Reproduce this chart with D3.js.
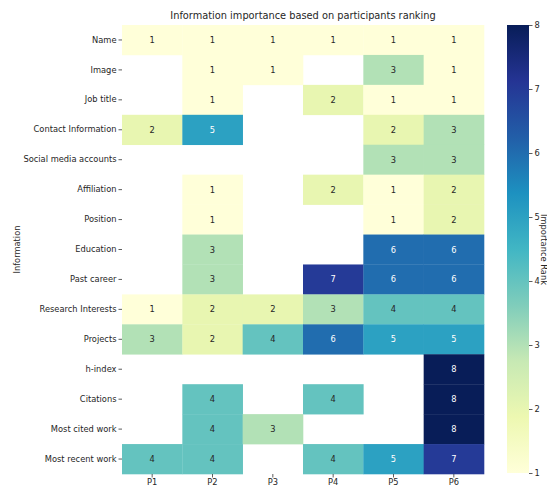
<!DOCTYPE html>
<html>
<head>
<meta charset="utf-8">
<script src="https://cdn.jsdelivr.net/npm/d3@7"></script>
<style>
  body { margin: 0; background: #fff; }
  text { font-family: "DejaVu Sans", sans-serif; fill: #262626; }
</style>
</head>
<body>
<div id="chart"></div>
<script>
const participants = ["P1", "P2", "P3", "P4", "P5", "P6"];
const items = ["Name", "Image", "Job title", "Contact Information", "Social media accounts",
  "Affiliation", "Position", "Education", "Past career", "Research Interests", "Projects",
  "h-index", "Citations", "Most cited work", "Most recent work"];
// ranks per item, one value per participant (null = not ranked)
const ranks = [
  [1, 1, 1, 1, 1, 1],
  [null, 1, 1, null, 3, 1],
  [null, 1, null, 2, 1, 1],
  [2, 5, null, null, 2, 3],
  [null, null, null, null, 3, 3],
  [null, 1, null, 2, 1, 2],
  [null, 1, null, null, 1, 2],
  [null, 3, null, null, 6, 6],
  [null, 3, null, 7, 6, 6],
  [1, 2, 2, 3, 4, 4],
  [3, 2, 4, 6, 5, 5],
  [null, null, null, null, null, 8],
  [null, 4, null, 4, null, 8],
  [null, 4, 3, null, null, 8],
  [4, 4, null, 4, 5, 7]
];
const cbarTicks = [1, 2, 3, 4, 5, 6, 7, 8];

const width = 547, height = 488;
const mLeft = 122, mRight = 484, mTop = 25, mBottom = 474;

const svg = d3.select("#chart").append("svg")
  .attr("width", width).attr("height", height);

const x = d3.scaleBand().domain(participants).range([mLeft, mRight]);
const y = d3.scaleBand().domain(items).range([mTop, mBottom]);

const pal = d3.schemeYlGnBu[9];
const color = d3.scaleLinear()
  .domain(d3.range(9).map(i => 1 + i * 7 / 8))
  .range(pal)
  .clamp(true);

const cells = [];
ranks.forEach((row, i) => row.forEach((v, j) => {
  if (v != null) cells.push({ item: items[i], p: participants[j], v: v });
}));

svg.selectAll(".cell")
  .data(cells)
  .enter()
  .append("rect")
  .attr("x", d => x(d.p))
  .attr("y", d => y(d.item))
  .attr("width", x.bandwidth() + 0.3)
  .attr("height", y.bandwidth() + 0.3)
  .attr("fill", d => color(d.v));

function textColor(v) {
  const c = d3.rgb(color(v));
  const lin = ch => { ch /= 255; return ch <= 0.03928 ? ch / 12.92 : Math.pow((ch + 0.055) / 1.055, 2.4); };
  const lum = 0.2126 * lin(c.r) + 0.7152 * lin(c.g) + 0.0722 * lin(c.b);
  return lum > 0.408 ? "#262626" : "#ffffff";
}

svg.selectAll(".annot")
  .data(cells)
  .enter()
  .append("text")
  .attr("x", d => x(d.p) + x.bandwidth() / 2)
  .attr("y", d => y(d.item) + y.bandwidth() / 2 + 3)
  .attr("text-anchor", "middle")
  .attr("font-size", 8.3)
  .style("fill", d => textColor(d.v))
  .text(d => d.v);

// axes
const xAxis = svg.append("g")
  .attr("transform", `translate(0,${mBottom})`)
  .call(d3.axisBottom(x).tickSize(3.5).tickPadding(2));
const yAxis = svg.append("g")
  .attr("transform", `translate(${mLeft},0)`)
  .call(d3.axisLeft(y).tickSize(3.5).tickPadding(2));
[xAxis, yAxis].forEach(a => {
  a.select(".domain").remove();
  a.selectAll(".tick line").attr("stroke", "#333").attr("stroke-width", 0.8);
  a.selectAll(".tick text").attr("font-size", 8.3).style("fill", "#262626")
    .attr("font-family", "DejaVu Sans, sans-serif");
});

svg.append("text")
  .attr("transform", `translate(20,${(mTop + mBottom) / 2}) rotate(-90)`)
  .attr("text-anchor", "middle")
  .attr("font-size", 8.3)
  .text("Information");

svg.append("text")
  .attr("x", (mLeft + mRight) / 2)
  .attr("y", 19)
  .attr("text-anchor", "middle")
  .attr("font-size", 9.8)
  .text("Information importance based on participants ranking");

// colorbar
const cbX = 507, cbW = 22;
const cbY = d3.scaleLinear().domain([1, 8]).range([mBottom - 1, mTop]);
const defs = svg.append("defs");
const grad = defs.append("linearGradient")
  .attr("id", "cbar").attr("x1", 0).attr("y1", 1).attr("x2", 0).attr("y2", 0);
pal.forEach((c, i) => grad.append("stop")
  .attr("offset", i / 8).attr("stop-color", c));
svg.append("rect")
  .attr("x", cbX).attr("y", mTop)
  .attr("width", cbW).attr("height", mBottom - 1 - mTop)
  .attr("fill", "url(#cbar)");

const cAxis = svg.append("g")
  .attr("transform", `translate(${cbX + cbW},0)`)
  .call(d3.axisRight(cbY).tickValues(cbarTicks).tickFormat(d3.format("d"))
    .tickSize(3.5).tickPadding(2));
cAxis.select(".domain").remove();
cAxis.selectAll(".tick line").attr("stroke", "#333").attr("stroke-width", 0.8);
cAxis.selectAll(".tick text").attr("font-size", 8.3).style("fill", "#262626")
  .attr("font-family", "DejaVu Sans, sans-serif");

svg.append("text")
  .attr("transform", `translate(541,${(mTop + mBottom) / 2}) rotate(90)`)
  .attr("text-anchor", "middle")
  .attr("font-size", 8.3)
  .text("Importance Rank");
</script>
</body>
</html>
